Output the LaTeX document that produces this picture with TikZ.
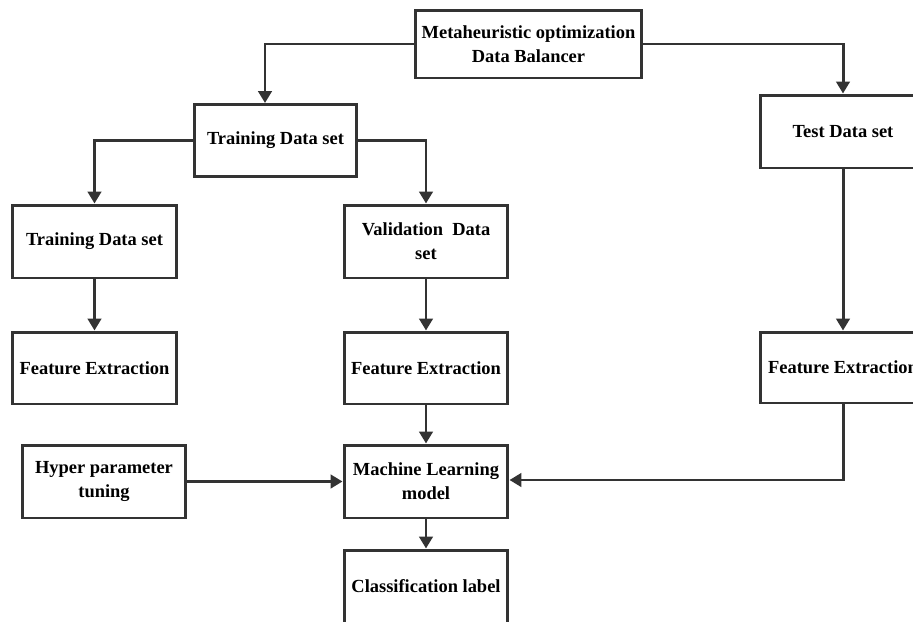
\documentclass[tikz,border=0pt]{standalone}
\usepackage{fontspec}
\setmainfont{Liberation Serif}
\usepackage{tikz}
\usetikzlibrary{arrows.meta, positioning, calc}
\definecolor{LineGray}{HTML}{333333}

\tikzset{
    stagebox/.style={draw=LineGray, line width=1.7pt, fill=white, align=center,
        inner sep=2pt, minimum width=3.28cm, minimum height=1.46cm,
        font=\bfseries\fontsize{10.5}{13.6}\selectfont},
    flow/.style={-{Triangle[length=2.4mm,width=2.7mm]}, line width=1.7pt, draw=LineGray}
}

\begin{document}
\begin{tikzpicture}[x=0.02cm, y=-0.02cm]
    \useasboundingbox (0,0) rectangle (913,622);
    \clip (0,0) rectangle (913,622);

    % Boxes
    \node[stagebox, minimum width=4.54cm, minimum height=1.36cm] (balancer) at (528.5,44) {Metaheuristic optimization\\Data Balancer};
    \node[stagebox, minimum width=3.26cm, minimum height=1.44cm] (train) at (275.5,140.5) {Training Data set};
    \node[stagebox, minimum width=3.3cm] (test) at (843,131.5) {Test Data set};
    \node[stagebox, minimum width=3.3cm] (trainsub) at (94.5,241.5) {Training Data set};
    \node[stagebox] (valid) at (426,241.5) {Validation\ \ Data\\set};
    \node[stagebox, minimum width=3.3cm, minimum height=1.44cm] (featA) at (94.5,368) {Feature Extraction};
    \node[stagebox, minimum height=1.44cm] (featB) at (426,368) {Feature Extraction};
    \node[stagebox, minimum width=3.3cm, minimum height=1.42cm] (featC) at (843,367.5) {Feature Extraction};
    \node[stagebox] (hyper) at (104,481.5) {Hyper parameter\\tuning};
    \node[stagebox] (model) at (426,481.5) {Machine Learning\\model};
    \node[stagebox] (label) at (426,586.5) {Classification label};

    % Connectors
    \draw[flow] (balancer.west) -| ($(train.north)+(-10.5,0)$);
    \draw[flow] (balancer.east) -| (test.north);
    \draw[flow] (train.west) -| (trainsub.north);
    \draw[flow] (train.east) -| (valid.north);
    \draw[flow] (trainsub) -- (featA);
    \draw[flow] (valid) -- (featB);
    \draw[flow] (test) -- (featC);
    \draw[flow] (featB) -- (model);
    \draw[flow] (hyper) -- (model);
    \draw[flow] (featC.south) |- ($(model.east)+(0,-1.5)$);
    \draw[flow] (model) -- (label);
\end{tikzpicture}
\end{document}
